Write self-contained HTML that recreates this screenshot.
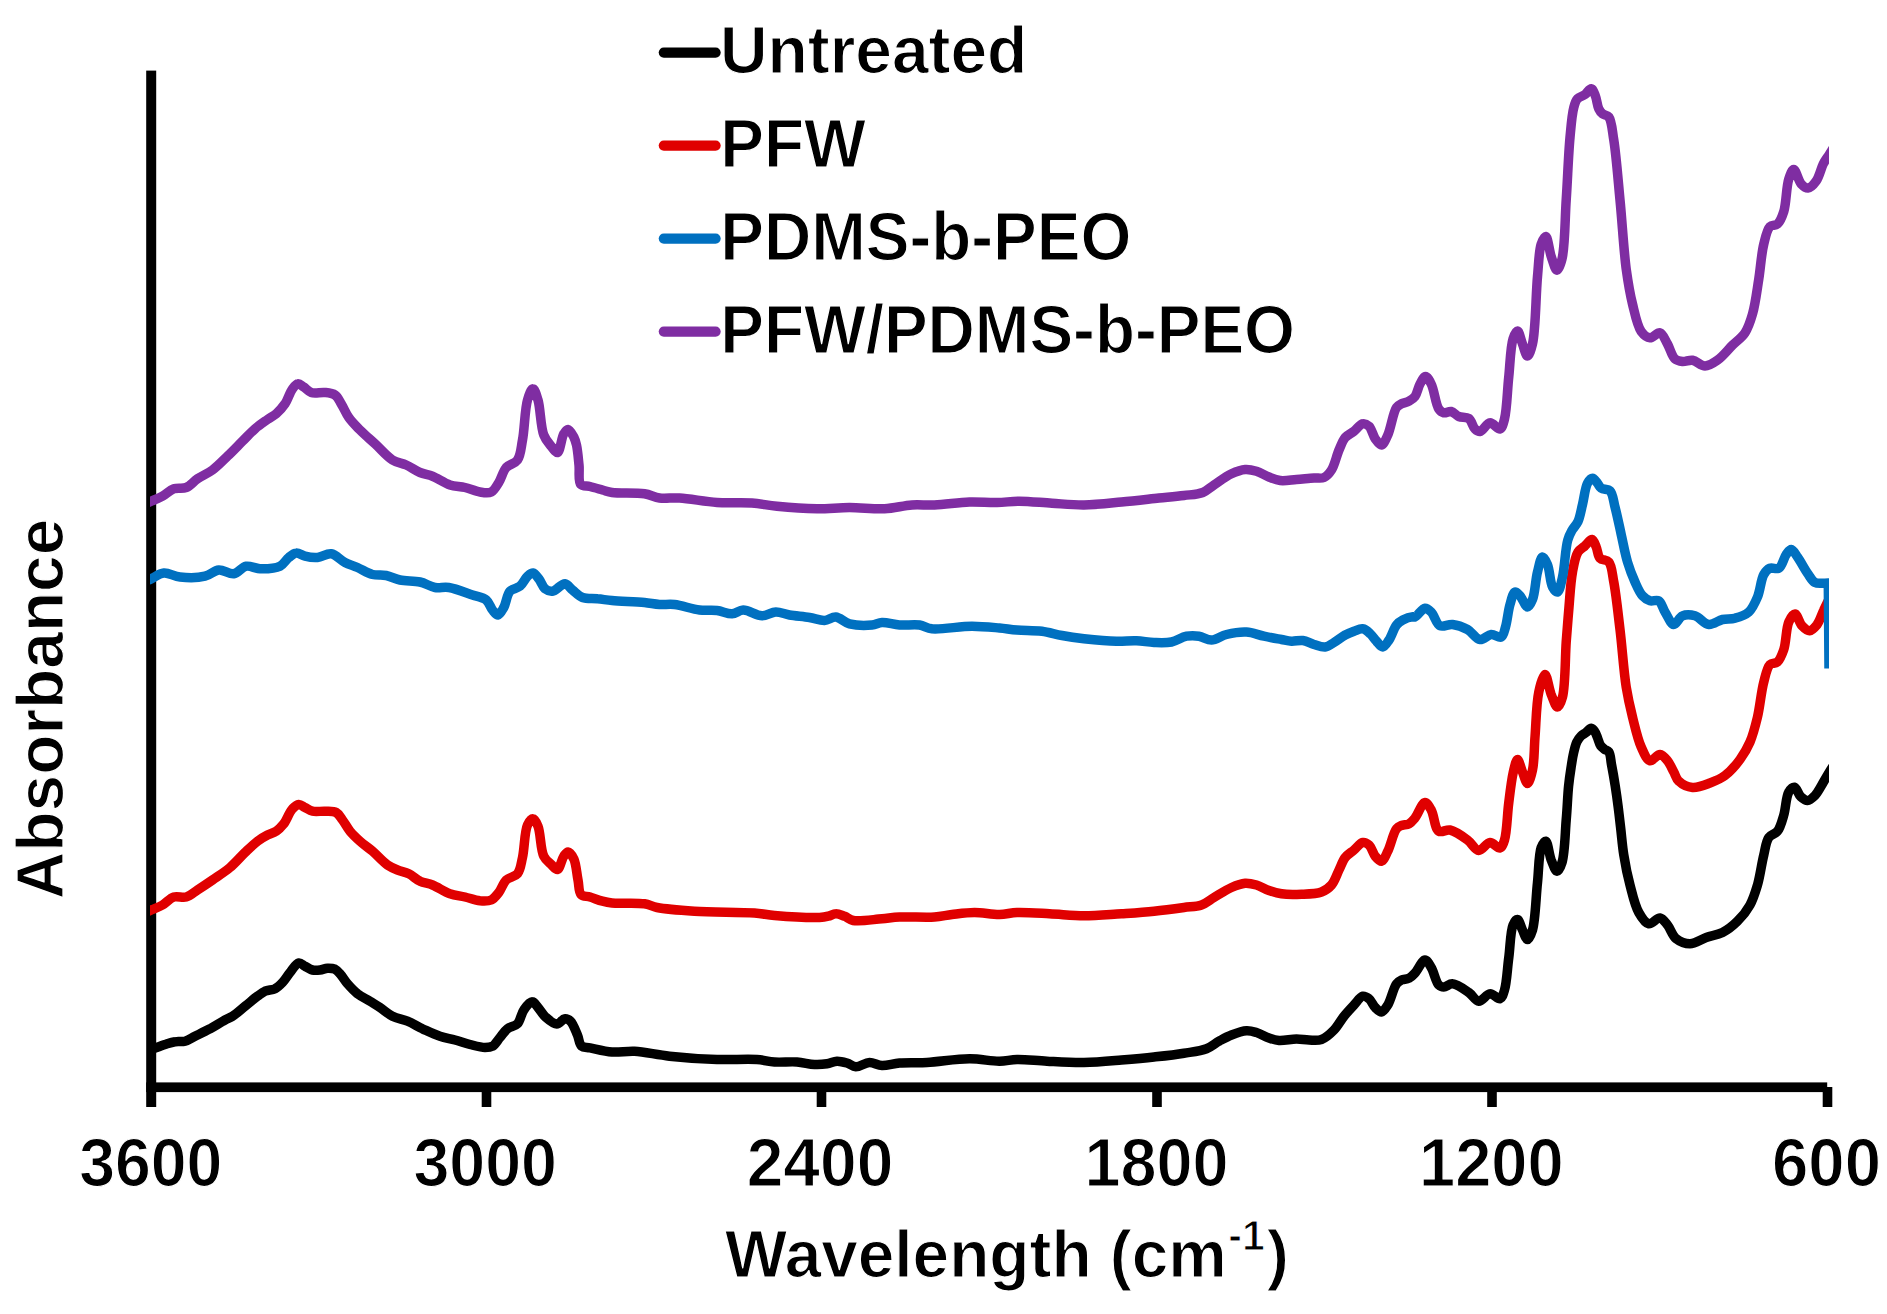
<!DOCTYPE html>
<html lang="en">
<head>
<meta charset="utf-8">
<title>FTIR absorbance spectra</title>
<style>
html,body{margin:0;padding:0;background:#ffffff;}
body{width:1887px;height:1314px;overflow:hidden;}
svg{display:block;}
</style>
</head>
<body>
<svg width="1887" height="1314" viewBox="0 0 1887 1314">
<defs><clipPath id="plot"><rect x="150" y="60" width="1679" height="1030"/></clipPath></defs>
<rect x="0" y="0" width="1887" height="1314" fill="#ffffff"/>
<g fill="#000000">
<rect x="146.2" y="70.6" width="10" height="1036.4"/>
<rect x="146.2" y="1082.4" width="1681" height="9.7"/>
<rect x="481.7" y="1087" width="9.6" height="20"/>
<rect x="816.7" y="1087" width="9.6" height="20"/>
<rect x="1152.2" y="1087" width="9.6" height="20"/>
<rect x="1487.2" y="1087" width="9.6" height="20"/>
<rect x="1822.7" y="1087" width="9.6" height="20"/>
</g>
<g clip-path="url(#plot)" fill="none" stroke-width="9.5" stroke-linejoin="round" stroke-linecap="butt">
<path stroke="#000000" d="M144.0 1052.1C146.4 1051.3 148.4 1050.5 151.2 1049.5C155.1 1048.1 160.8 1045.9 165.0 1044.5C168.6 1043.4 171.6 1042.3 175.0 1041.8C178.3 1041.2 181.8 1042.1 185.0 1041.2C188.4 1040.3 191.3 1038.1 195.0 1036.2C199.5 1034.0 205.0 1031.4 210.0 1028.8C215.0 1026.0 220.8 1022.3 225.0 1020.0C227.9 1018.4 229.8 1018.0 232.5 1016.2C236.3 1013.8 240.8 1009.6 245.0 1006.2C249.2 1002.9 253.8 998.9 257.5 996.2C260.3 994.2 262.2 992.5 265.0 991.2C268.0 989.9 272.1 990.2 275.0 988.8C277.9 987.3 280.1 985.0 282.5 982.5C285.2 979.7 287.3 975.7 290.0 972.5C292.7 969.2 295.9 963.5 298.8 963.0C300.9 962.6 302.8 965.1 305.0 966.2C307.4 967.5 309.9 969.4 312.5 970.0C314.9 970.6 317.5 970.3 320.0 970.0C322.5 969.7 325.0 968.4 327.5 968.2C330.0 968.1 332.9 968.3 335.0 969.2C337.0 970.2 338.3 971.8 340.0 973.8C342.4 976.3 344.7 980.5 347.5 983.8C350.5 987.2 353.8 990.8 357.5 993.8C361.3 996.7 366.1 998.8 370.0 1001.2C373.5 1003.4 376.5 1005.2 380.0 1007.5C384.0 1010.1 388.0 1014.0 392.5 1016.2C397.1 1018.6 402.6 1019.2 407.5 1021.2C412.6 1023.4 417.3 1026.3 422.5 1028.8C428.1 1031.3 434.3 1034.3 440.0 1036.2C445.1 1038.0 450.0 1038.6 455.0 1040.0C460.0 1041.4 465.0 1043.2 470.0 1044.5C475.0 1045.7 480.9 1047.4 485.0 1047.5C487.9 1047.5 490.2 1047.5 492.5 1046.2C495.3 1044.7 497.5 1040.4 500.0 1037.5C502.5 1034.6 504.6 1031.0 507.5 1028.8C510.4 1026.5 514.9 1026.5 517.5 1023.8C520.5 1020.6 521.1 1013.8 523.8 1010.0C526.1 1006.6 529.7 1001.7 532.2 1001.8C534.4 1001.8 536.0 1005.3 538.0 1007.5C540.4 1010.2 542.5 1014.3 545.5 1017.0C548.7 1019.8 553.3 1024.0 556.8 1024.0C559.7 1024.0 562.2 1019.0 564.8 1018.8C566.8 1018.6 568.8 1019.6 570.5 1021.2C573.3 1023.9 575.6 1030.8 577.5 1035.2C579.1 1039.0 579.1 1044.0 581.5 1046.0C583.6 1047.8 586.5 1047.1 590.0 1047.8C595.6 1048.9 604.6 1051.4 612.0 1052.0C619.4 1052.6 626.2 1050.8 634.5 1051.2C644.9 1051.8 656.9 1054.9 669.5 1056.2C684.1 1057.8 701.8 1059.0 717.0 1059.5C730.9 1060.0 746.4 1058.7 757.0 1059.5C764.0 1060.0 768.3 1061.6 774.5 1062.0C781.5 1062.5 790.0 1061.5 797.0 1062.0C803.2 1062.4 809.1 1064.3 814.5 1064.5C819.0 1064.7 823.1 1064.4 827.0 1063.8C830.5 1063.2 833.7 1061.4 837.0 1061.2C840.3 1061.1 843.8 1062.1 847.0 1063.0C850.1 1063.9 852.5 1066.6 855.8 1066.8C859.8 1067.0 865.0 1062.6 869.5 1062.5C873.7 1062.4 877.5 1065.3 882.0 1065.5C887.3 1065.7 893.0 1063.5 899.5 1063.0C907.6 1062.3 916.9 1063.0 927.0 1062.5C939.6 1061.8 956.6 1058.8 969.5 1058.8C980.4 1058.7 990.8 1061.3 999.5 1061.2C1006.1 1061.2 1010.4 1059.6 1017.0 1059.5C1025.7 1059.3 1036.5 1060.8 1047.0 1061.2C1058.7 1061.8 1071.6 1062.7 1084.0 1062.5C1096.5 1062.3 1109.5 1061.0 1121.5 1060.0C1132.7 1059.1 1143.4 1058.2 1154.0 1057.0C1164.2 1055.9 1174.7 1054.8 1184.0 1053.2C1192.1 1051.9 1200.3 1051.2 1206.5 1048.8C1211.5 1046.8 1214.8 1043.6 1219.0 1041.2C1223.1 1039.0 1227.1 1036.7 1231.5 1035.0C1236.2 1033.2 1242.0 1031.0 1246.5 1030.8C1250.1 1030.6 1253.0 1031.5 1256.5 1032.5C1260.5 1033.7 1265.0 1036.6 1269.0 1038.0C1272.5 1039.2 1275.2 1040.2 1279.0 1040.5C1284.0 1040.9 1291.2 1039.0 1296.5 1039.0C1301.0 1039.0 1304.8 1039.9 1309.0 1040.0C1313.2 1040.1 1317.5 1040.9 1321.5 1039.5C1325.9 1037.9 1330.3 1033.8 1334.0 1030.0C1337.8 1026.1 1340.6 1020.5 1344.0 1016.2C1347.2 1012.2 1350.7 1008.5 1354.0 1005.0C1357.0 1001.9 1359.9 996.8 1362.8 996.2C1364.9 995.8 1367.1 997.3 1369.0 998.8C1371.4 1000.6 1373.0 1005.2 1375.2 1007.5C1377.2 1009.4 1379.5 1012.2 1381.5 1012.0C1383.7 1011.8 1385.8 1008.2 1387.8 1005.0C1390.9 1000.0 1393.4 987.8 1396.5 983.8C1398.1 981.7 1399.6 980.9 1401.5 980.0C1403.7 979.0 1406.8 979.4 1409.0 978.2C1411.3 977.1 1412.9 975.3 1415.0 973.0C1418.1 969.7 1422.0 960.1 1425.0 960.0C1427.3 960.0 1429.3 964.3 1431.2 967.5C1434.0 972.0 1435.8 982.2 1438.8 985.0C1440.3 986.5 1441.8 987.0 1443.8 987.0C1446.3 987.0 1449.2 983.5 1452.5 983.8C1457.1 984.1 1464.1 989.3 1468.8 992.5C1472.7 995.2 1475.2 1001.0 1478.8 1001.2C1482.3 1001.5 1486.3 994.0 1490.0 993.8C1493.4 993.5 1497.6 999.5 1500.0 998.8C1502.3 998.0 1503.3 994.0 1504.5 990.0C1506.8 982.7 1507.3 968.3 1508.8 957.5C1510.2 946.7 1510.4 931.1 1513.0 925.0C1514.2 922.1 1516.1 919.3 1517.5 919.5C1519.3 919.7 1520.8 926.6 1522.5 930.0C1524.1 933.3 1525.8 939.5 1527.5 939.5C1529.2 939.5 1531.1 934.6 1532.5 930.0C1535.4 920.4 1535.9 897.1 1537.5 882.5C1538.8 869.9 1538.7 854.3 1541.2 847.5C1542.5 844.3 1544.4 841.0 1545.8 841.2C1547.9 841.6 1549.1 854.6 1551.2 860.0C1553.0 864.3 1555.1 871.2 1557.0 871.2C1558.7 871.3 1560.7 866.7 1562.0 862.5C1564.8 853.8 1565.1 833.4 1566.2 820.0C1567.3 808.0 1567.6 795.5 1568.6 786.0C1569.3 779.0 1570.1 773.7 1571.0 768.0C1571.8 762.8 1572.5 757.6 1573.6 753.0C1574.5 749.0 1575.4 745.0 1576.8 742.0C1578.0 739.6 1579.4 737.6 1581.0 736.0C1582.5 734.5 1584.3 733.8 1586.0 732.5C1587.7 731.2 1589.6 728.2 1591.2 728.3C1592.6 728.4 1594.0 730.5 1595.0 732.0C1596.2 733.7 1596.7 735.9 1597.6 738.0C1598.6 740.4 1599.2 743.5 1600.5 745.5C1601.6 747.1 1603.1 748.2 1604.5 749.3C1605.9 750.3 1607.7 750.3 1608.8 751.8C1610.6 754.3 1610.6 759.7 1611.5 764.5C1612.7 770.7 1614.1 778.7 1615.2 785.8C1616.3 792.9 1617.3 800.0 1618.2 807.1C1619.1 814.2 1619.8 820.9 1620.7 828.4C1621.7 836.8 1622.3 845.9 1623.8 855.0C1625.3 864.7 1627.4 875.3 1630.0 885.0C1632.5 894.4 1634.8 905.6 1638.8 912.5C1641.6 917.5 1645.0 923.0 1648.8 923.8C1652.2 924.4 1656.8 917.5 1660.0 918.0C1662.9 918.4 1665.1 922.1 1667.5 925.0C1670.5 928.7 1672.3 935.6 1676.2 938.8C1679.9 941.7 1685.2 943.8 1690.0 943.8C1695.2 943.7 1700.8 939.4 1706.2 937.5C1711.6 935.6 1717.4 935.1 1722.5 932.5C1727.9 929.8 1733.0 925.7 1737.5 921.2C1742.2 916.6 1746.7 911.0 1750.0 905.0C1753.4 898.9 1755.3 892.4 1757.5 885.0C1760.1 876.1 1761.6 863.6 1763.8 855.0C1765.4 848.4 1765.9 841.6 1768.8 837.5C1771.0 834.4 1775.1 834.3 1777.5 831.2C1780.5 827.4 1782.0 821.0 1783.8 815.0C1785.8 808.1 1786.0 796.6 1788.8 792.0C1790.3 789.4 1792.7 787.0 1794.5 787.2C1796.7 787.6 1798.3 794.5 1800.8 796.8C1802.8 798.6 1805.2 800.6 1807.5 800.5C1810.0 800.4 1812.7 797.8 1815.0 795.5C1817.8 792.6 1820.2 787.6 1822.5 783.8C1824.7 780.1 1826.8 776.3 1828.8 773.0C1830.5 770.1 1832.1 767.7 1833.8 765.0"/>
<path stroke="#E00000" d="M144.0 913.2C146.4 912.1 148.6 911.2 151.2 910.0C154.6 908.5 158.9 907.1 162.5 905.0C166.4 902.8 169.7 898.3 173.8 897.0C177.6 895.8 182.3 898.1 186.2 897.0C190.3 895.9 193.5 892.6 197.5 890.0C202.2 887.0 207.3 883.6 212.5 880.0C218.1 876.1 224.6 872.1 230.0 867.5C235.4 862.9 240.2 857.1 245.0 852.5C249.3 848.4 253.4 844.3 257.5 841.2C260.9 838.7 264.2 836.7 267.5 835.0C270.5 833.5 273.6 833.0 276.2 831.2C279.0 829.4 281.3 826.9 283.8 823.8C286.8 819.8 289.4 812.0 292.5 808.8C294.5 806.6 296.6 804.7 298.8 804.5C300.8 804.3 302.8 806.4 305.0 807.5C307.4 808.7 309.6 810.6 312.5 811.2C316.1 812.1 320.9 811.0 325.0 811.2C328.9 811.5 333.3 810.9 336.2 812.5C339.0 814.0 340.4 817.2 342.5 820.0C345.0 823.3 347.1 827.7 350.0 831.2C352.9 834.8 356.4 838.0 360.0 841.2C363.8 844.7 368.2 847.6 372.5 851.2C377.3 855.4 382.8 861.8 387.5 865.0C391.0 867.4 394.0 868.6 397.5 870.0C401.1 871.5 405.1 872.0 408.8 873.8C412.6 875.6 416.0 879.4 420.0 881.2C423.9 883.1 428.1 883.2 432.5 885.0C437.9 887.2 444.3 891.7 450.0 893.8C455.1 895.5 460.0 895.8 465.0 897.0C470.0 898.2 475.3 900.3 480.0 900.8C484.0 901.1 488.1 901.4 491.2 900.0C494.3 898.6 496.4 895.5 498.8 892.5C501.5 889.0 503.0 883.2 506.2 880.0C509.3 877.0 514.8 877.1 517.5 873.8C520.6 869.9 521.0 863.9 522.5 857.5C524.5 848.6 524.5 831.4 527.5 825.0C529.0 821.8 531.3 818.6 533.0 818.8C534.8 818.9 536.6 822.7 538.0 826.2C540.7 832.8 540.4 849.6 543.8 856.2C545.7 860.2 548.8 862.2 551.2 864.5C553.3 866.5 555.6 869.9 557.5 869.5C560.0 868.9 561.6 859.3 563.8 856.2C565.1 854.3 566.5 851.9 568.0 852.0C569.8 852.1 572.2 855.6 573.8 858.8C576.1 863.7 576.7 873.6 578.0 880.0C579.1 885.3 578.5 891.8 581.0 894.5C583.0 896.7 586.8 896.0 590.0 897.0C593.8 898.2 598.6 900.2 602.5 901.2C605.8 902.1 607.9 902.6 612.0 903.0C619.6 903.8 636.3 902.4 644.5 903.8C649.7 904.6 651.7 906.4 657.0 907.5C666.1 909.3 680.5 910.3 694.5 911.2C712.1 912.4 739.9 911.9 754.5 913.0C763.0 913.7 766.5 914.8 774.5 915.5C786.5 916.5 810.3 917.9 819.5 917.5C823.6 917.3 825.5 916.9 828.2 916.2C830.9 915.6 833.1 913.8 835.8 913.8C838.5 913.7 841.6 915.2 844.5 916.2C847.5 917.4 849.4 919.7 853.2 920.5C859.9 921.8 873.6 919.4 882.0 918.8C888.6 918.2 892.7 917.3 899.5 917.0C909.2 916.5 924.9 917.7 934.5 917.0C941.4 916.5 945.8 915.2 952.0 914.5C959.0 913.7 966.8 912.5 974.5 912.5C982.6 912.5 991.9 914.6 999.5 914.5C1005.9 914.4 1010.3 912.8 1017.0 912.5C1026.2 912.2 1038.5 913.2 1049.5 913.8C1060.8 914.3 1072.3 915.7 1084.0 915.8C1096.2 915.8 1109.5 914.5 1121.5 913.8C1132.7 913.0 1143.4 912.3 1154.0 911.2C1164.2 910.2 1175.3 908.7 1184.0 907.5C1190.6 906.6 1196.3 906.8 1201.5 905.0C1206.2 903.3 1209.5 900.2 1214.0 897.5C1219.3 894.4 1225.9 889.9 1231.5 887.5C1236.2 885.4 1240.9 883.6 1245.2 883.2C1249.2 883.0 1252.7 883.9 1256.5 885.0C1260.6 886.2 1264.8 889.0 1269.0 890.5C1273.1 891.9 1276.8 893.1 1281.5 893.8C1287.3 894.6 1294.8 894.5 1301.5 894.2C1308.2 894.0 1316.2 894.0 1321.5 892.0C1325.6 890.4 1328.7 888.2 1331.5 885.0C1334.8 881.2 1336.6 874.8 1339.0 870.0C1341.2 865.6 1342.6 860.9 1345.2 857.5C1347.7 854.4 1351.1 852.5 1354.0 850.0C1356.9 847.5 1359.9 843.0 1362.8 842.5C1364.9 842.1 1367.2 843.4 1369.0 845.0C1371.5 847.2 1372.9 853.4 1375.2 856.2C1377.1 858.5 1379.6 861.6 1381.5 861.2C1383.8 860.9 1385.7 855.4 1387.8 851.2C1390.7 845.4 1393.3 832.7 1396.5 828.8C1398.1 826.8 1399.6 826.3 1401.5 825.5C1403.7 824.6 1406.8 825.0 1409.0 823.8C1411.3 822.5 1412.9 820.5 1415.0 818.0C1418.1 814.2 1421.9 802.7 1425.0 802.5C1427.2 802.4 1429.3 806.6 1431.2 810.0C1434.2 815.1 1434.6 828.7 1438.8 831.2C1441.7 833.1 1446.0 829.2 1450.0 830.0C1455.4 831.1 1462.5 836.3 1467.5 840.0C1471.9 843.2 1474.9 850.2 1478.8 850.5C1482.4 850.7 1486.3 842.7 1490.0 842.5C1493.4 842.3 1497.5 848.7 1500.0 848.0C1502.2 847.4 1503.3 843.8 1504.5 840.0C1507.0 832.3 1507.2 814.3 1508.8 802.5C1510.1 791.9 1511.4 780.4 1513.2 772.5C1514.5 767.2 1516.0 759.5 1517.5 759.5C1519.0 759.5 1520.8 767.9 1522.5 772.0C1524.1 775.9 1525.9 783.5 1527.5 783.5C1529.2 783.5 1531.3 775.6 1532.5 770.0C1534.4 761.5 1534.1 748.8 1535.0 737.0C1536.1 723.2 1536.3 703.4 1538.8 692.0C1540.3 684.7 1543.0 674.5 1545.0 674.5C1547.1 674.5 1548.9 688.7 1551.2 694.5C1553.2 699.2 1555.5 707.0 1557.5 707.0C1559.3 707.0 1561.2 701.9 1562.5 697.0C1565.4 686.2 1565.1 658.3 1566.2 642.0C1567.2 629.0 1568.0 618.7 1569.0 607.0C1570.0 595.3 1570.6 582.0 1572.5 572.0C1573.9 564.3 1575.2 556.5 1578.0 552.0C1579.9 549.0 1582.7 547.8 1585.0 545.8C1587.3 543.7 1590.1 539.2 1592.0 539.5C1593.8 539.8 1595.0 544.2 1596.2 547.0C1597.7 550.3 1597.7 555.7 1600.0 558.2C1602.1 560.5 1606.6 559.4 1608.8 562.0C1612.0 565.8 1612.2 573.9 1613.8 582.0C1616.1 594.4 1618.0 612.9 1620.0 629.5C1622.2 647.7 1623.7 671.0 1626.2 687.0C1628.1 698.7 1630.0 707.0 1632.5 717.0C1635.0 727.0 1637.7 739.1 1641.2 747.0C1643.8 752.7 1646.5 760.0 1650.0 760.8C1652.9 761.4 1657.0 754.3 1660.0 754.5C1662.8 754.7 1665.3 758.1 1667.5 760.8C1670.0 763.8 1671.8 768.4 1673.8 772.0C1675.5 775.2 1676.1 778.8 1678.8 781.2C1681.9 784.2 1687.6 787.1 1692.5 787.5C1697.9 788.0 1704.5 785.1 1710.0 783.0C1715.3 781.0 1720.3 779.0 1725.0 775.5C1730.4 771.5 1735.8 765.2 1740.0 759.5C1744.0 754.0 1747.2 748.5 1750.0 742.0C1753.2 734.6 1755.3 726.1 1757.5 717.0C1760.0 706.4 1761.2 691.6 1763.8 682.0C1765.6 675.1 1766.9 667.6 1770.0 664.5C1772.0 662.5 1775.4 663.8 1777.5 662.0C1780.3 659.6 1782.0 654.6 1783.8 649.5C1786.2 642.3 1786.0 628.2 1788.8 622.0C1790.4 618.3 1793.0 613.9 1795.0 614.0C1797.4 614.1 1799.3 622.9 1802.0 625.8C1804.2 628.1 1807.1 630.9 1809.5 630.8C1812.0 630.6 1814.6 627.7 1816.8 625.0C1819.6 621.4 1821.6 614.6 1823.8 610.0C1825.5 606.2 1827.2 602.7 1828.8 599.5C1830.1 596.8 1831.2 594.5 1832.5 592.0"/>
<path stroke="#0070C0" d="M144.0 582.1C146.4 581.0 148.5 580.0 151.2 578.8C154.9 577.1 159.2 573.4 163.8 573.0C168.7 572.5 174.0 576.4 180.0 577.0C187.4 577.8 198.0 577.9 205.0 576.2C210.4 575.0 214.0 570.4 218.8 570.0C223.6 569.6 229.1 574.4 233.8 573.8C238.3 573.1 241.8 567.1 246.2 566.2C250.6 565.5 255.0 568.6 260.0 568.8C266.0 568.9 275.0 568.7 280.0 566.2C283.9 564.3 285.8 559.8 288.8 557.5C291.2 555.6 293.6 553.2 296.2 553.0C299.0 552.7 301.8 555.5 305.0 556.2C308.7 557.1 313.3 557.9 317.5 557.5C322.0 557.1 326.8 553.1 331.2 553.8C336.0 554.5 340.4 560.2 345.0 562.5C349.2 564.6 353.2 565.6 357.5 567.5C362.3 569.6 367.5 573.2 372.5 574.5C377.1 575.7 381.7 574.6 386.2 575.5C390.9 576.4 394.9 578.9 400.0 580.0C406.0 581.3 413.9 580.6 420.0 582.0C425.4 583.2 430.0 586.6 435.0 587.5C439.6 588.3 443.6 586.7 448.8 587.5C455.7 588.6 465.7 592.7 472.5 595.0C477.7 596.8 482.9 597.3 486.2 600.0C489.3 602.5 490.3 607.4 492.5 610.0C494.3 612.1 496.2 615.2 498.0 615.0C500.0 614.8 502.0 610.6 503.8 607.5C506.1 603.2 506.8 594.8 510.0 591.2C512.6 588.4 517.1 588.6 520.0 586.2C523.0 583.7 525.0 578.5 527.5 576.2C529.3 574.6 531.2 572.8 533.0 573.0C535.0 573.3 536.9 576.4 538.8 578.8C541.0 581.5 542.4 586.7 545.0 588.8C547.1 590.4 549.8 591.6 552.5 591.2C556.2 590.8 561.4 583.5 565.0 583.8C567.9 584.0 569.8 587.9 572.5 590.0C575.6 592.4 578.6 596.0 582.5 597.5C586.8 599.1 592.5 598.2 597.5 598.8C602.4 599.2 606.2 600.0 612.0 600.5C620.7 601.3 635.7 601.6 644.5 602.5C650.5 603.1 654.5 604.2 659.5 604.5C664.5 604.8 668.9 603.9 674.5 604.5C681.8 605.3 691.9 609.1 699.5 610.0C705.8 610.8 711.4 609.8 717.0 610.5C722.2 611.1 727.4 614.0 732.0 613.8C736.1 613.5 739.0 610.1 743.2 610.0C748.7 609.9 756.2 615.7 762.0 615.8C766.9 615.8 771.2 612.1 775.8 612.0C780.3 611.9 784.5 614.1 789.5 615.0C795.5 616.0 803.3 616.5 809.5 617.5C814.9 618.4 819.9 620.7 824.5 620.5C828.5 620.3 831.9 616.7 835.8 617.0C840.2 617.3 844.2 622.4 849.5 623.8C855.9 625.4 866.0 625.6 872.0 625.0C876.0 624.6 878.2 622.7 882.0 622.5C887.0 622.2 893.5 624.6 899.5 625.0C905.9 625.5 913.7 624.1 919.5 625.0C924.2 625.7 926.6 628.1 932.0 628.8C941.5 629.8 959.9 626.2 972.0 626.2C982.0 626.3 991.4 627.3 999.5 628.0C1006.0 628.6 1010.6 629.5 1017.0 630.0C1024.6 630.6 1034.2 630.2 1042.0 631.2C1049.1 632.2 1055.2 634.3 1062.0 635.5C1069.1 636.8 1075.9 637.8 1084.0 638.8C1093.8 639.8 1107.0 641.0 1116.5 641.2C1124.0 641.4 1130.1 640.5 1136.5 640.8C1142.5 641.0 1148.2 642.3 1154.0 642.5C1159.8 642.7 1166.0 643.1 1171.5 642.0C1176.8 640.9 1181.6 637.1 1186.5 636.2C1190.8 635.5 1194.9 635.6 1199.0 636.2C1203.2 636.9 1207.2 640.1 1211.5 640.0C1216.3 639.9 1221.1 635.8 1226.5 634.5C1232.6 633.0 1240.1 631.6 1246.5 632.0C1252.6 632.3 1258.1 635.0 1264.0 636.2C1269.8 637.5 1276.5 638.6 1281.5 639.5C1285.3 640.2 1288.1 641.1 1291.5 641.2C1295.1 641.4 1299.1 640.0 1302.8 640.5C1306.6 641.0 1310.2 643.4 1314.0 644.5C1317.7 645.6 1321.8 647.4 1325.2 647.0C1328.4 646.6 1331.0 644.3 1334.0 642.5C1337.6 640.4 1341.6 637.0 1345.2 635.0C1348.3 633.4 1351.0 632.3 1354.0 631.2C1356.9 630.2 1360.0 628.3 1362.8 628.8C1365.5 629.2 1368.0 631.7 1370.2 633.8C1372.6 635.9 1374.3 639.0 1376.5 641.2C1378.5 643.4 1380.7 647.1 1382.8 647.0C1384.9 646.9 1387.0 642.9 1389.0 640.0C1391.7 636.1 1393.7 628.5 1396.5 625.0C1398.4 622.6 1400.3 621.3 1402.8 620.0C1405.6 618.5 1410.6 617.0 1412.8 616.8C1413.8 616.6 1414.1 617.3 1415.0 617.0C1417.3 616.3 1422.0 608.5 1425.0 608.2C1427.2 608.0 1429.2 610.0 1431.2 612.0C1434.3 615.0 1436.1 623.9 1440.0 625.8C1443.4 627.4 1448.2 624.0 1452.5 624.5C1457.3 625.0 1462.9 627.0 1467.5 629.5C1472.1 632.0 1475.8 639.0 1480.0 639.5C1483.7 640.0 1487.6 634.8 1491.2 634.5C1494.6 634.2 1498.9 638.2 1501.2 637.0C1503.7 635.8 1504.2 631.1 1505.5 627.0C1507.3 621.1 1508.1 610.8 1510.0 604.5C1511.4 599.6 1512.9 592.6 1515.0 592.0C1516.5 591.6 1518.3 594.0 1520.0 595.8C1522.5 598.4 1525.3 607.0 1527.5 607.0C1529.3 607.0 1531.1 603.0 1532.5 599.5C1535.0 593.4 1535.5 579.7 1537.5 572.0C1539.0 566.2 1540.5 557.3 1542.5 557.0C1544.0 556.8 1546.1 561.2 1547.5 564.5C1549.8 569.8 1550.0 582.4 1552.5 587.0C1553.9 589.6 1556.1 592.3 1557.5 592.0C1559.7 591.5 1561.0 583.2 1562.5 577.0C1564.7 567.5 1565.3 548.3 1567.8 540.0C1569.1 535.5 1570.5 533.1 1572.2 530.0C1573.9 527.0 1576.4 525.0 1578.0 521.5C1580.1 516.9 1581.0 510.5 1582.5 504.5C1584.2 497.8 1585.0 487.7 1587.5 483.2C1588.9 480.7 1590.8 478.2 1592.5 478.2C1594.2 478.2 1596.0 481.5 1597.5 483.2C1598.9 484.9 1599.5 487.0 1601.2 488.2C1603.4 489.7 1607.8 488.6 1610.0 490.8C1613.0 493.7 1613.4 500.8 1615.0 507.0C1617.1 514.9 1619.2 525.3 1621.2 534.5C1623.3 543.7 1625.0 553.6 1627.5 562.0C1629.7 569.3 1632.3 576.0 1635.0 582.0C1637.3 587.1 1639.5 592.5 1642.5 595.8C1644.7 598.2 1647.3 599.9 1650.0 600.8C1652.7 601.6 1656.4 599.4 1658.8 600.8C1661.6 602.4 1662.6 608.2 1665.0 612.0C1667.6 616.1 1670.7 624.2 1673.8 624.5C1676.5 624.7 1679.0 617.2 1682.5 615.8C1686.0 614.3 1690.9 614.6 1695.0 615.8C1699.7 617.1 1704.0 624.0 1708.8 624.5C1713.2 625.0 1718.0 620.5 1722.5 619.5C1726.7 618.5 1730.8 619.4 1735.0 618.2C1739.6 617.0 1745.1 615.3 1748.8 612.0C1752.7 608.4 1755.1 602.7 1757.5 597.0C1760.3 590.4 1760.9 579.5 1763.8 574.5C1765.5 571.5 1767.5 569.3 1770.0 568.2C1772.5 567.2 1776.3 569.7 1778.8 568.2C1782.1 566.3 1783.8 557.8 1786.2 554.5C1787.9 552.3 1789.5 549.4 1791.2 549.5C1793.3 549.6 1795.3 553.9 1797.5 557.0C1800.6 561.3 1804.3 568.7 1807.5 573.2C1810.1 576.9 1811.9 580.9 1815.0 582.5C1817.8 584.0 1821.7 583.0 1825.0 583.2L1828.3 583.0L1829.0 668.5"/>
<path stroke="#7F2DA2" d="M144.0 504.5C146.4 503.4 148.6 502.4 151.2 501.2C154.6 499.8 158.8 498.3 162.5 496.2C166.3 494.1 169.7 490.2 173.8 488.8C177.6 487.4 182.4 489.0 186.2 487.5C190.4 485.9 193.4 481.5 197.5 478.8C202.0 475.7 207.7 473.5 212.5 470.0C217.7 466.2 222.6 461.0 227.5 456.2C232.6 451.4 237.7 446.0 242.5 441.2C246.9 436.9 250.7 432.5 255.0 428.8C259.0 425.3 263.7 422.2 267.5 419.5C270.6 417.3 273.5 416.2 276.2 413.8C279.4 411.0 282.4 407.6 285.0 403.8C287.9 399.4 289.8 392.3 292.5 388.8C294.3 386.4 296.1 384.0 298.0 383.8C299.8 383.5 301.7 385.7 303.8 387.0C306.1 388.5 308.2 391.5 311.2 392.5C315.0 393.7 320.8 392.0 325.0 392.5C328.6 392.9 332.3 393.2 335.0 395.0C337.8 396.9 339.2 400.4 341.2 403.8C343.8 407.8 345.7 413.2 348.8 417.5C351.9 422.0 355.9 425.8 360.0 430.0C364.5 434.6 369.8 439.0 375.0 443.8C380.6 448.9 386.7 456.4 392.5 460.0C397.1 462.8 401.7 463.0 406.2 465.0C410.9 467.1 415.4 470.6 420.0 472.5C424.2 474.2 428.1 474.5 432.5 476.2C437.9 478.4 444.3 483.1 450.0 485.0C455.1 486.6 460.0 486.3 465.0 487.5C470.0 488.7 475.3 491.3 480.0 492.0C484.0 492.6 488.2 493.5 491.2 492.0C494.5 490.4 496.4 486.2 498.8 482.5C501.5 478.2 502.9 471.3 506.2 467.5C509.3 464.1 514.8 463.8 517.5 460.0C520.8 455.3 521.0 447.9 522.5 440.0C524.6 429.0 524.8 409.1 527.5 400.0C529.0 394.9 531.2 388.7 533.0 388.8C534.7 388.8 536.5 395.1 538.0 400.0C540.5 408.3 540.5 426.8 543.8 435.0C545.7 440.1 548.7 443.1 551.2 446.2C553.3 448.8 555.7 452.9 557.5 452.5C560.2 451.9 561.4 437.6 563.8 433.8C565.1 431.6 566.5 429.4 568.0 429.5C569.8 429.6 572.3 434.3 573.8 437.0C575.1 439.5 575.7 441.7 576.5 445.0C577.7 450.1 578.3 458.4 579.0 465.0C579.7 471.5 577.9 481.3 580.8 484.5C582.7 486.7 586.7 485.7 590.0 486.5C593.9 487.5 598.6 488.9 602.5 490.0C605.9 490.9 607.8 491.9 612.0 492.5C619.6 493.6 635.8 492.4 644.5 493.8C650.5 494.7 654.1 497.2 659.5 498.0C665.6 498.9 671.8 497.5 679.5 498.0C690.1 498.6 704.7 501.7 717.0 502.5C728.8 503.3 741.3 502.2 752.0 503.0C761.1 503.7 767.7 505.4 777.0 506.2C788.8 507.4 804.4 508.6 817.0 508.8C828.4 508.9 838.5 507.5 849.5 507.5C861.0 507.5 873.6 509.3 884.5 508.8C894.2 508.3 903.3 505.6 912.0 505.0C919.9 504.5 926.2 505.4 934.5 505.0C944.9 504.6 958.5 502.4 969.5 502.0C979.2 501.7 988.3 502.7 997.0 502.5C1004.9 502.4 1011.3 501.2 1019.5 501.2C1029.3 501.3 1041.2 502.6 1052.0 503.2C1062.7 503.9 1072.9 505.1 1084.0 505.0C1096.0 504.8 1109.0 503.2 1121.5 502.0C1134.0 500.8 1147.8 499.2 1159.0 498.0C1168.2 497.1 1176.3 496.5 1184.0 495.5C1190.7 494.6 1197.5 494.6 1202.8 492.5C1207.2 490.8 1209.8 487.7 1214.0 485.0C1219.2 481.6 1225.8 476.4 1231.5 473.8C1236.2 471.6 1240.9 469.8 1245.2 469.5C1249.2 469.2 1252.7 470.1 1256.5 471.2C1260.6 472.5 1264.9 475.4 1269.0 477.0C1272.8 478.5 1276.1 480.0 1280.2 480.5C1285.1 481.1 1291.0 479.9 1296.5 479.5C1302.2 479.1 1309.0 478.3 1314.0 478.0C1317.8 477.7 1321.1 478.8 1324.0 477.5C1327.0 476.2 1329.3 473.4 1331.5 470.0C1334.6 465.2 1336.5 455.8 1339.0 450.0C1341.1 445.3 1342.5 440.7 1345.2 437.5C1347.7 434.7 1351.1 433.5 1354.0 431.2C1357.0 428.9 1359.9 424.2 1362.8 423.8C1364.9 423.4 1367.2 424.6 1369.0 426.2C1371.6 428.7 1372.9 435.4 1375.2 438.8C1377.1 441.4 1379.5 445.2 1381.5 445.0C1383.8 444.7 1385.8 439.3 1387.8 435.0C1390.9 428.2 1393.1 412.2 1396.5 407.5C1398.1 405.3 1399.6 404.8 1401.5 403.8C1403.7 402.6 1406.7 402.5 1409.0 401.2C1411.2 400.0 1413.3 398.8 1415.0 396.5C1417.2 393.5 1418.0 387.5 1420.0 384.0C1421.6 381.1 1423.6 376.5 1425.5 376.5C1427.4 376.5 1429.5 380.6 1431.2 384.0C1434.2 389.7 1435.6 404.5 1438.8 409.0C1440.3 411.2 1441.8 412.3 1443.8 412.8C1445.9 413.3 1448.8 411.0 1451.2 411.5C1453.9 412.1 1455.9 415.3 1458.8 416.5C1461.7 417.7 1466.1 416.6 1468.8 418.5C1471.7 420.6 1472.7 426.9 1475.0 429.0C1476.6 430.5 1478.1 431.7 1480.0 431.5C1482.9 431.1 1486.6 423.0 1490.0 422.8C1493.2 422.5 1497.6 429.7 1500.0 429.0C1502.3 428.3 1503.3 423.6 1504.5 419.0C1506.9 409.9 1507.3 390.2 1508.8 376.5C1510.1 363.6 1510.5 346.7 1513.0 339.0C1514.2 335.2 1516.1 330.9 1517.5 331.0C1519.3 331.1 1520.8 339.8 1522.5 344.0C1524.1 348.1 1525.8 356.0 1527.5 356.0C1529.2 356.0 1531.1 349.8 1532.5 344.0C1535.7 330.8 1535.8 294.9 1537.5 276.5C1538.7 263.7 1538.9 250.9 1541.2 244.0C1542.5 240.4 1544.4 236.3 1545.8 236.5C1547.9 236.8 1549.2 250.5 1551.2 256.5C1553.0 261.6 1555.1 270.2 1557.0 270.2C1558.7 270.3 1560.7 264.4 1562.0 259.0C1565.0 247.2 1564.9 220.0 1566.2 200.0C1567.6 179.5 1568.4 154.5 1570.0 137.5C1571.1 125.7 1571.9 114.4 1573.8 107.5C1574.8 103.6 1575.5 100.9 1577.5 98.8C1579.4 96.7 1582.7 96.2 1585.0 94.5C1587.3 92.8 1589.5 88.5 1591.2 88.8C1593.0 89.0 1594.3 93.3 1595.5 96.2C1596.9 99.8 1597.2 105.6 1598.8 108.8C1599.8 110.9 1600.9 112.4 1602.5 113.8C1604.2 115.2 1607.1 114.8 1608.8 117.0C1611.8 121.0 1612.2 130.5 1613.8 140.0C1616.2 155.2 1618.0 179.3 1620.0 200.0C1622.2 222.2 1623.7 249.9 1626.2 269.0C1628.1 282.7 1629.8 293.1 1632.5 304.0C1634.9 313.8 1637.2 325.9 1641.2 331.5C1643.7 334.9 1646.9 337.5 1650.0 337.8C1653.2 338.0 1657.2 332.0 1660.0 332.8C1663.1 333.6 1665.1 339.9 1667.5 344.0C1670.1 348.6 1671.8 356.2 1675.0 359.0C1677.2 360.9 1679.8 361.2 1682.5 361.5C1685.6 361.8 1689.1 359.7 1692.5 360.2C1696.5 360.9 1700.8 366.0 1705.0 366.0C1709.2 366.0 1713.4 363.1 1717.5 360.2C1722.6 356.7 1727.7 350.0 1732.5 345.2C1736.9 340.9 1741.7 337.7 1745.0 332.8C1748.5 327.4 1750.4 321.3 1752.5 314.0C1755.3 304.3 1756.9 290.7 1758.8 279.0C1760.6 267.3 1761.4 253.6 1763.8 244.0C1765.5 237.1 1766.9 229.6 1770.0 226.5C1772.0 224.5 1775.4 225.8 1777.5 224.0C1780.3 221.6 1782.1 216.8 1783.8 211.5C1786.3 203.4 1786.3 186.5 1788.8 179.0C1790.2 174.7 1791.9 169.5 1793.8 169.5C1796.0 169.5 1798.3 180.9 1801.2 184.0C1803.3 186.2 1805.7 188.2 1808.0 188.0C1810.7 187.8 1813.9 184.2 1816.2 181.0C1819.3 176.8 1820.9 168.7 1823.2 164.0C1825.0 160.5 1827.0 158.0 1828.8 155.2C1830.3 152.9 1831.6 150.8 1833.0 148.5"/>
</g>
<g fill="none" stroke-width="10.2" stroke-linecap="round">
<line x1="663.8" y1="52.6" x2="715.6" y2="52.6" stroke="#000000"/>
<line x1="663.8" y1="145.6" x2="715.6" y2="145.6" stroke="#E00000"/>
<line x1="663.8" y1="238.6" x2="715.6" y2="238.6" stroke="#0070C0"/>
<line x1="663.8" y1="331.6" x2="715.6" y2="331.6" stroke="#7F2DA2"/>
</g>
<g font-family="'Liberation Sans', Arial, Helvetica, sans-serif" font-weight="bold" font-size="65.5" fill="#000000" stroke="#ffffff" stroke-width="1.2" stroke-linejoin="round">
<text transform="translate(719.9,73.3) scale(1.0060,1.018)">Untreated</text>
<text transform="translate(720.2,166.6) scale(1.0000,1.040)">PFW</text>
<text transform="translate(720.2,259.9) scale(1.0000,1.040)">PDMS-b-PEO</text>
<text transform="translate(720.2,353.2) scale(1.0000,1.040)">PFW/PDMS-b-PEO</text>
<text transform="translate(150.8,1186.3) scale(0.9830,1.04)" text-anchor="middle">3600</text>
<text transform="translate(485.2,1186.3) scale(0.9860,1.04)" text-anchor="middle">3000</text>
<text transform="translate(820.0,1186.3) scale(1.0060,1.04)" text-anchor="middle">2400</text>
<text transform="translate(1156.6,1186.3) scale(0.9890,1.04)" text-anchor="middle">1800</text>
<text transform="translate(1491.3,1186.3) scale(0.9920,1.04)" text-anchor="middle">1200</text>
<text transform="translate(1826.5,1186.3) scale(0.9970,1.04)" text-anchor="middle">600</text>
<text transform="translate(725.0,1276.9) scale(1.004,1.018)">Wavelength (cm<tspan font-size="41" dy="-26.5" dx="1.5">-1</tspan><tspan dy="26.5" dx="2">)</tspan></text>
<text transform="translate(62.6,899.3) rotate(-90) scale(1.006,1.018)">Absorbance</text>
</g>
</svg>
</body>
</html>
